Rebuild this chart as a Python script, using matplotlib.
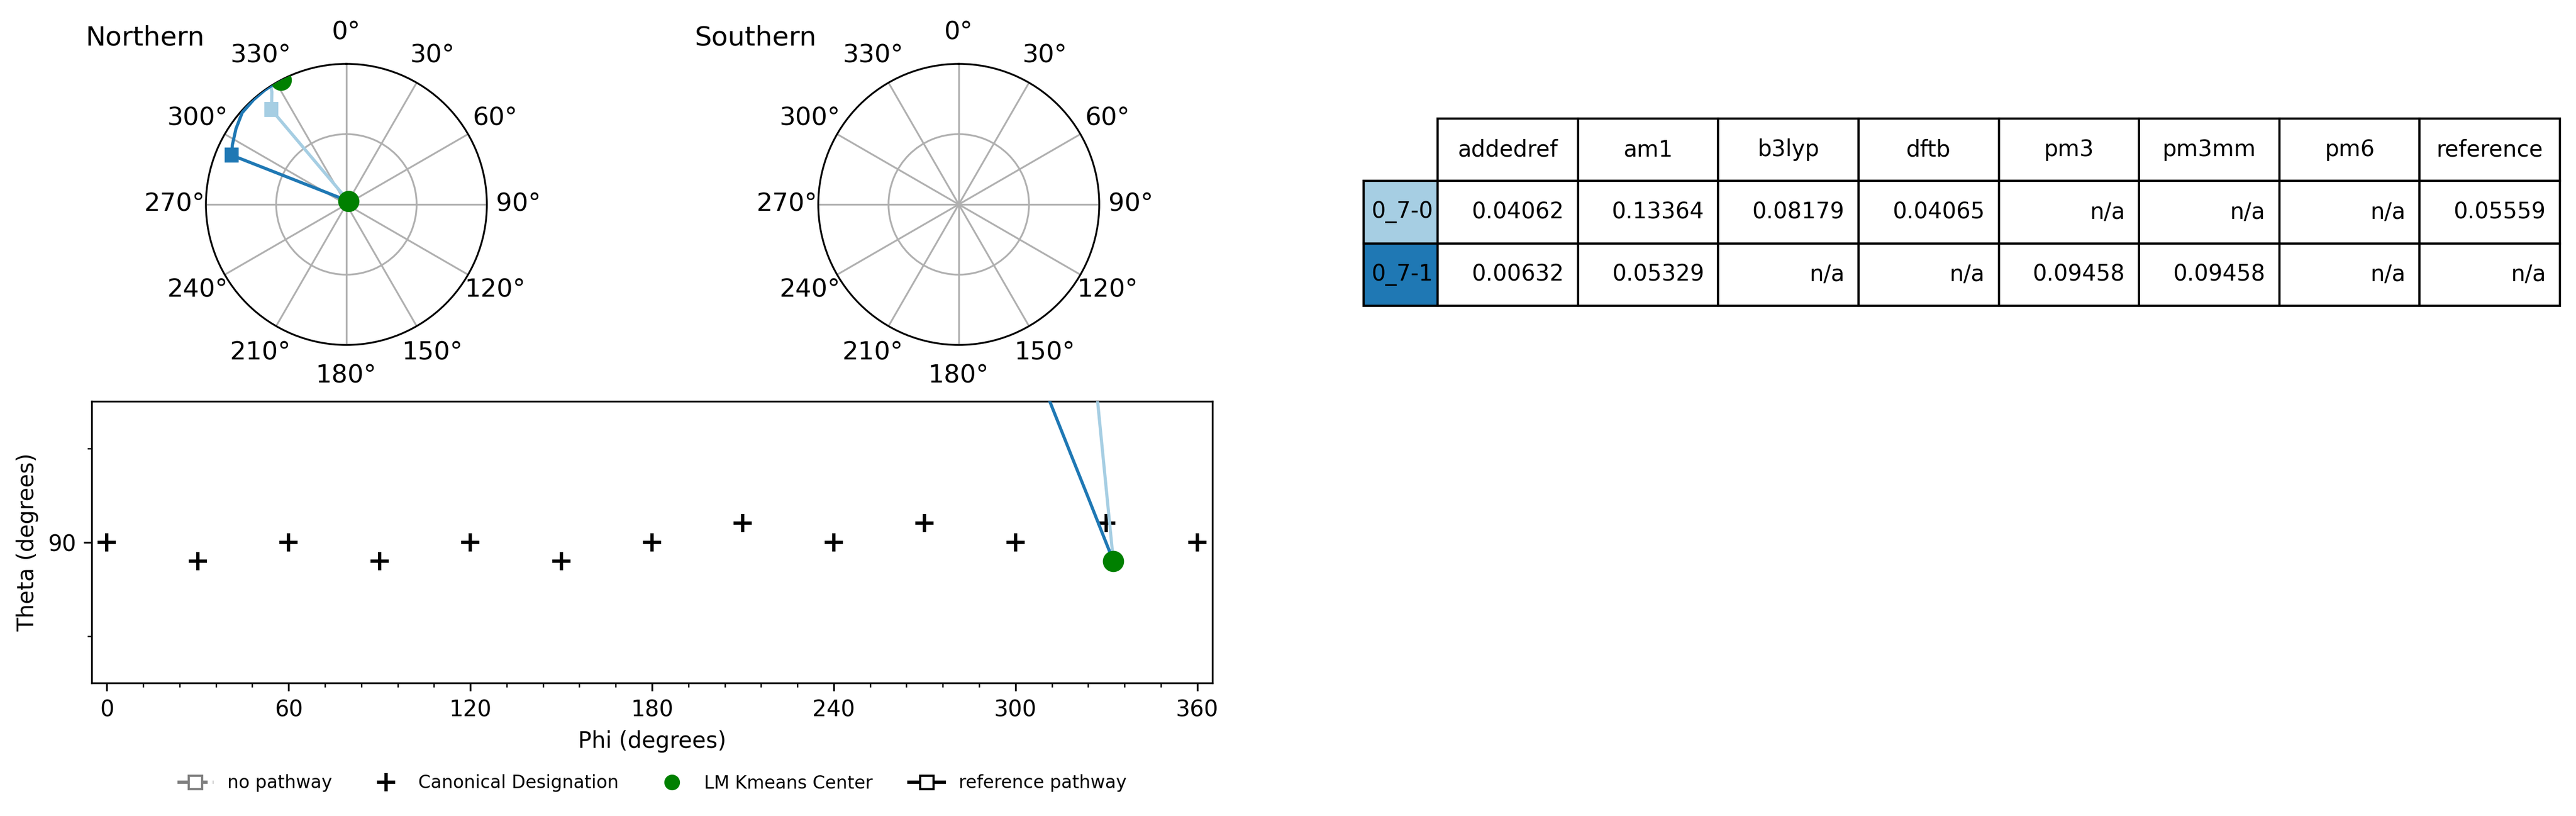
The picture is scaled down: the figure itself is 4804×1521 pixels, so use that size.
import numpy as np
import matplotlib
matplotlib.use("Agg")
import matplotlib.pyplot as plt
from matplotlib.lines import Line2D
from matplotlib.table import Table
from matplotlib.ticker import MultipleLocator

# canonical designations around the equator (phi, theta in degrees)
canon_phi = [0, 30, 60, 90, 120, 150, 180, 210, 240, 270, 300, 330, 360]
canon_theta = [90, 91.2, 90, 91.2, 90, 91.2, 90, 88.8, 90, 88.8, 90, 88.8, 90]

# local minimum k-means centers
center_phi = [34.0, 332.3]
center_theta = [1.6, 91.2]

# pathways (second point is the transition state, drawn as a square)
path_names = ["0_7-0", "0_7-1"]
path_colors = ["#a6cee3", "#1f78b4"]
path0_phi = [34.0, 321.6, 323.9, 326.5, 327.1, 329.7, 332.3]
path0_theta = [1.6, 59.6, 64.5, 74.0, 81.0, 86.1, 91.2]
path1_phi = [34.0, 293.2, 297.6, 304.4, 311.3, 318.4, 324.1, 328.7, 332.3]
path1_theta = [1.6, 62.8, 66.3, 72.3, 81.0, 84.45, 87.2, 89.45, 91.2]

# table of values per method
methods = ["addedref", "am1", "b3lyp", "dftb", "pm3", "pm3mm", "pm6", "reference"]
row0_vals = [0.04062, 0.13364, 0.08179, 0.04065, None, None, None, 0.05559]
row1_vals = [0.00632, 0.05329, None, None, 0.09458, 0.09458, None, None]

W, H = 4804, 1521
DPI = 300
fig = plt.figure(figsize=(W / DPI, H / DPI), dpi=DPI)

paths = [(path0_phi, path0_theta, path_colors[0]),
         (path1_phi, path1_theta, path_colors[1])]


def setup_polar(ax, title):
    ax.set_theta_zero_location("N")
    ax.set_theta_direction(-1)
    ax.set_ylim(0, 1)
    ax.set_yticks([0.5, 1.0])
    ax.set_yticklabels([])
    angles = np.arange(0, 360, 30)
    ax.set_thetagrids(angles, [f"{a}°" for a in angles], fontsize=11.3)
    ax.grid(True, color="#b0b0b0", lw=0.8)
    ax.text(-0.005, 1.065, title, transform=ax.transAxes, ha="right",
            va="baseline", fontsize=12)


# polar plots, r = sin(theta)
R = 262
ax_n = fig.add_axes([(646 - R) / W, 1 - (381 + R) / H, 2 * R / W, 2 * R / H], projection="polar")
ax_s = fig.add_axes([(1788 - R) / W, 1 - (381 + R) / H, 2 * R / W, 2 * R / H], projection="polar")
setup_polar(ax_n, "Northern")
setup_polar(ax_s, "Southern")

for phi, theta, col in paths:
    ax_n.plot(np.deg2rad(phi), np.sin(np.deg2rad(theta)), "-", color=col, lw=1.4,
              marker="s", markevery=[1], ms=5.5, zorder=3)
ax_n.plot(np.deg2rad(center_phi), np.sin(np.deg2rad(center_theta)), "o",
          color="green", ms=8.5, ls="none", zorder=4)

# phi / theta plot
ax = fig.add_axes([171 / W, 1 - 1273 / H, 2090 / W, 525 / H])
ax.plot(canon_phi, canon_theta, "+", color="black", ms=8, mew=1.5, ls="none", zorder=2)
for phi, theta, col in paths:
    ax.plot(phi, theta, "-", color=col, lw=1.4, marker="s", markevery=[1], ms=5.5, zorder=3)
ax.plot(center_phi, center_theta, "o", color="green", ms=8.5, ls="none", zorder=4)
ax.set_xlim(-5, 365)
ax.set_ylim(99, 81)
ax.set_xticks(range(0, 361, 60))
ax.xaxis.set_minor_locator(MultipleLocator(12))
ax.set_yticks([90])
ax.set_yticks([84, 96], minor=True)
ax.set_xlabel("Phi (degrees)")
ax.set_ylabel("Theta (degrees)")

handles = [
    Line2D([], [], color="grey", ls="--", marker="s", mfc="white", mec="grey", label="no pathway"),
    Line2D([], [], color="black", ls="none", marker="+", ms=8, mew=1.5, label="Canonical Designation"),
    Line2D([], [], color="green", ls="none", marker="o", label="LM Kmeans Center"),
    Line2D([], [], color="black", ls="-", marker="s", mfc="white", mec="black", label="reference pathway"),
]
fig.legend(handles=handles, loc="center", bbox_to_anchor=(1216 / W, 1 - 1460 / H),
           ncol=4, frameon=False, fontsize=8)

# table; the bbox only covers the data columns, the row labels sit left of it
fmt = lambda v: "n/a" if v is None else f"{v:.5f}"
tax = fig.add_axes([2543 / W, 1 - 570 / H, 2231 / W, 349 / H])
tax.axis("off")
lw = 138 / 2231
cw = (1 - lw) / len(methods)
rh = 1 / 3
tab = Table(tax, bbox=[lw, 0, 1 - lw, 1])
for c, m in enumerate(methods):
    tab.add_cell(0, c, width=cw, height=rh, text=m, loc="center")
for r, (name, vals, col) in enumerate(zip(path_names, [row0_vals, row1_vals], path_colors)):
    tab.add_cell(r + 1, -1, width=lw, height=rh, text=name, facecolor=col, loc="left")
    for c, v in enumerate(vals):
        tab.add_cell(r + 1, c, width=cw, height=rh, text=fmt(v), loc="right")
tab.auto_set_font_size(False)
tab.set_fontsize(10)
tax.add_table(tab)

fig.savefig("out.png", dpi=DPI)
